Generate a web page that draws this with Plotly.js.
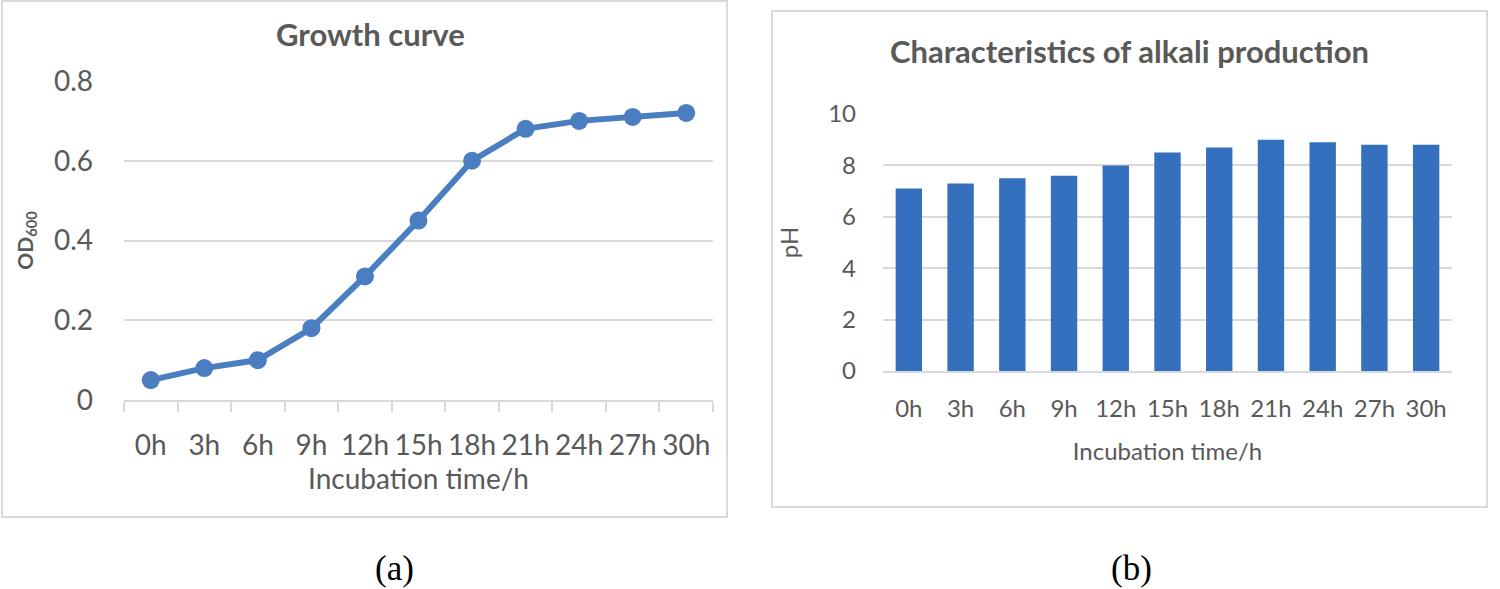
<!DOCTYPE html>
<html>
<head>
<meta charset="utf-8">
<script src="https://cdn.plot.ly/plotly-3.0.1.min.js"></script>
<style>
  html, body { margin: 0; padding: 0; background: #fff; }
  #chart { width: 1500px; height: 589px; }
</style>
</head>
<body>
<div id="chart"></div>
<script>
// incubation times, shared by both panels
var times = ['0h', '3h', '6h', '9h', '12h', '15h', '18h', '21h', '24h', '27h', '30h'];
// (a) growth curve, OD600
var od600 = [0.05, 0.08, 0.10, 0.18, 0.31, 0.45, 0.60, 0.68, 0.70, 0.71, 0.72];
// (b) alkali production, pH
var ph = [7.1, 7.3, 7.5, 7.6, 8.0, 8.5, 8.7, 9.0, 8.9, 8.8, 8.8];

var W = 1500, H = 589;
function px(x) { return x / W; }
function py(y) { return 1 - y / H; }

var grey = '#595959';
var gridGrey = '#d9d9d9';
var font = 'Lato, "Open Sans", sans-serif';
var serif = '"Liberation Serif", "Times New Roman", serif';

var growth = {
  x: times,
  y: od600,
  type: 'scatter',
  mode: 'lines+markers',
  line: { color: '#4a7ec0', width: 6 },
  marker: { color: '#4a7ec0', size: 18 },
  xaxis: 'x',
  yaxis: 'y',
  hoverinfo: 'x+y'
};

var alkali = {
  x: times,
  y: ph,
  type: 'bar',
  marker: { color: '#3470bd' },
  xaxis: 'x2',
  yaxis: 'y2',
  hoverinfo: 'x+y'
};

var layout = {
  width: W,
  height: H,
  margin: { l: 0, r: 0, t: 0, b: 0 },
  paper_bgcolor: '#fff',
  plot_bgcolor: 'rgba(0,0,0,0)',
  showlegend: false,
  bargap: 0.49,
  font: { family: font, color: grey },

  xaxis: {
    domain: [px(124), px(713)],
    anchor: 'y',
    type: 'category',
    range: [-0.5, times.length - 0.5],
    tickson: 'boundaries',
    ticks: 'outside',
    ticklen: 10,
    tickwidth: 2,
    tickcolor: gridGrey,
    tickangle: 0,
    showline: true,
    linecolor: gridGrey,
    linewidth: 2,
    showgrid: false,
    tickfont: { size: 28, color: grey },
    ticklabelstandoff: 19,
    title: { text: 'Incubation time/h', font: { size: 28, color: grey }, standoff: 6 },
    automargin: false
  },
  yaxis: {
    domain: [py(400), py(81)],
    anchor: 'x',
    range: [0, 0.8],
    dtick: 0.2,
    showgrid: true,
    gridcolor: gridGrey,
    gridwidth: 2,
    zeroline: false,
    showline: false,
    ticks: '',
    tickfont: { size: 28, color: grey },
    ticklabelstandoff: 30,
    title: { text: '<b>OD<sub>600</sub></b>', font: { size: 21, color: grey }, standoff: 14 },
    automargin: false
  },

  xaxis2: {
    domain: [px(883), px(1452)],
    anchor: 'y2',
    type: 'category',
    range: [-0.5, times.length - 0.5],
    ticks: '',
    tickangle: 0,
    showline: true,
    linecolor: gridGrey,
    linewidth: 2,
    showgrid: false,
    tickfont: { size: 24, color: grey },
    ticklabelstandoff: 15,
    title: { text: 'Incubation time/h', font: { size: 24, color: grey }, standoff: 22 },
    automargin: false
  },
  yaxis2: {
    domain: [py(371), py(114)],
    anchor: 'x2',
    range: [0, 10],
    dtick: 2,
    showgrid: true,
    gridcolor: gridGrey,
    gridwidth: 2,
    zeroline: false,
    showline: false,
    ticks: '',
    tickfont: { size: 24, color: grey },
    ticklabelstandoff: 26,
    title: { text: 'pH', font: { size: 24, color: grey }, standoff: 22 },
    automargin: false
  },

  shapes: [
    { type: 'rect', xref: 'paper', yref: 'paper',
      x0: px(2), x1: px(727), y0: py(517), y1: py(1),
      line: { color: gridGrey, width: 2 }, layer: 'below' },
    { type: 'rect', xref: 'paper', yref: 'paper',
      x0: px(772), x1: px(1487), y0: py(507), y1: py(11),
      line: { color: gridGrey, width: 2 }, layer: 'below' }
  ],

  annotations: [
    { text: '<b>Growth curve</b>', xref: 'paper', yref: 'paper',
      x: px(370), y: py(34), xanchor: 'center', yanchor: 'middle', showarrow: false,
      font: { size: 31, color: grey, family: font } },
    { text: '<b>Characteristics of alkali production</b>', xref: 'paper', yref: 'paper',
      x: px(1129), y: py(51), xanchor: 'center', yanchor: 'middle', showarrow: false,
      font: { size: 31, color: grey, family: font } },
    { text: '(a)', xref: 'paper', yref: 'paper',
      x: px(394), y: py(568), xanchor: 'center', yanchor: 'middle', showarrow: false,
      font: { size: 35, color: '#000', family: serif } },
    { text: '(b)', xref: 'paper', yref: 'paper',
      x: px(1131), y: py(568), xanchor: 'center', yanchor: 'middle', showarrow: false,
      font: { size: 35, color: '#000', family: serif } }
  ]
};

Plotly.newPlot('chart', [growth, alkali], layout, { displayModeBar: false, staticPlot: true });
</script>
</body>
</html>
